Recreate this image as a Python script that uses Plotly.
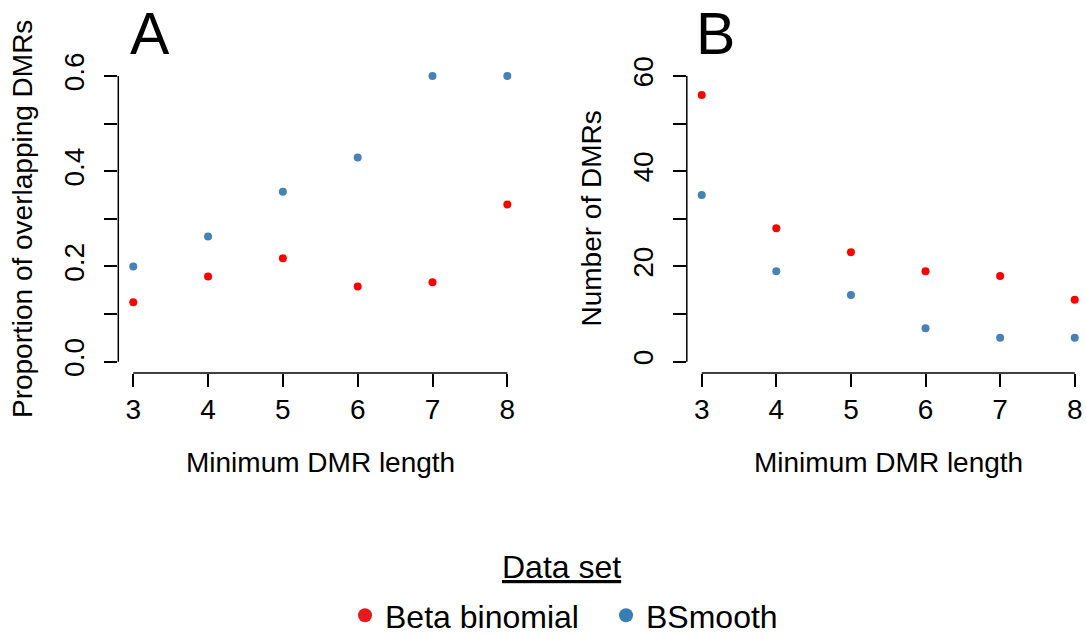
import plotly.graph_objects as go

# ---- data ----
min_len = [3, 4, 5, 6, 7, 8]
prop_beta = [0.125, 0.179, 0.217, 0.158, 0.167, 0.33]
prop_bsmooth = [0.2, 0.263, 0.357, 0.429, 0.6, 0.6]
num_beta = [56, 28, 23, 19, 18, 13]
num_bsmooth = [35, 19, 14, 7, 5, 5]
series_names = ["Beta binomial", "BSmooth"]
prop_ticks = [0, 0.1, 0.2, 0.3, 0.4, 0.5, 0.6]
prop_ticktext = ["0.0", "", "0.2", "", "0.4", "", "0.6"]
num_ticks = [0, 10, 20, 30, 40, 50, 60]
num_ticktext = ["0", "", "20", "", "40", "", "60"]

point_colors = ["#FF0000", "#4682B4"]
legend_colors = ["#E41A1C", "#377EB8"]

W, H = 1086, 635
FONT = "Liberation Sans, Arial, Helvetica, sans-serif"


def px(p):
    return p / W


def py(p):
    return 1 - p / H


fig = go.Figure()

# Panel A
fig.add_trace(go.Scatter(x=min_len, y=prop_beta, mode="markers", xaxis="x", yaxis="y",
                         marker=dict(color=point_colors[0], size=8), showlegend=False))
fig.add_trace(go.Scatter(x=min_len, y=prop_bsmooth, mode="markers", xaxis="x", yaxis="y",
                         marker=dict(color=point_colors[1], size=8), showlegend=False))
# Panel B
fig.add_trace(go.Scatter(x=min_len, y=num_beta, mode="markers", xaxis="x2", yaxis="y2",
                         marker=dict(color=point_colors[0], size=8), showlegend=False))
fig.add_trace(go.Scatter(x=min_len, y=num_bsmooth, mode="markers", xaxis="x2", yaxis="y2",
                         marker=dict(color=point_colors[1], size=8), showlegend=False))
# Legend entries
for name, col in zip(series_names, legend_colors):
    fig.add_trace(go.Scatter(x=[None], y=[None], mode="markers", name=name, xaxis="x", yaxis="y",
                             marker=dict(color=col, size=14), showlegend=True))

ydom = [py(373.1), py(64.6)]
common_x = dict(showgrid=False, zeroline=False, showline=False, ticks="outside", ticklen=13,
                tickwidth=1.5, tickcolor="black", tickvals=min_len, automargin=False,
                tickfont=dict(family=FONT, size=28, color="black"), ticklabelstandoff=-2)
common_y = dict(showgrid=False, zeroline=False, showline=False, ticks="outside", ticklen=13,
                tickwidth=1.5, tickcolor="black", tickangle=-90, automargin=False,
                tickfont=dict(family=FONT, size=28, color="black"), ticklabelstandoff=9)

fig.update_layout(
    width=W, height=H,
    margin=dict(l=0, r=0, t=0, b=0, autoexpand=False),
    paper_bgcolor="white", plot_bgcolor="white",
    font=dict(family=FONT, color="black"),
    xaxis=dict(domain=[px(118.3), px(522.3)], range=[2.8, 8.2], anchor="y", **common_x),
    yaxis=dict(domain=ydom, range=[-0.024, 0.624], anchor="x", tickvals=prop_ticks,
               ticktext=prop_ticktext, **common_y),
    xaxis2=dict(domain=[px(686.8), 1.0], range=[2.8, 8.151], anchor="y2", **common_x),
    yaxis2=dict(domain=ydom, range=[-2.4, 62.4], anchor="x2", tickvals=num_ticks,
                ticktext=num_ticktext, **common_y),
    legend=dict(orientation="h", x=px(345), xanchor="left", y=-0.0126, yanchor="bottom",
                entrywidth=216, entrywidthmode="pixels",
                font=dict(family=FONT, size=32, color="black"),
                bgcolor="rgba(0,0,0,0)"),
    showlegend=True,
)

# R-style axis lines spanning first to last tick
line = dict(color="black", width=1.5)
for xa, ya, ymax in [("x", "y", prop_ticks[-1]), ("x2", "y2", num_ticks[-1])]:
    fig.add_shape(type="line", xref=xa, yref=ya + " domain", x0=min_len[0], x1=min_len[-1],
                  y0=0, y1=0, line=line)
    fig.add_shape(type="line", xref=xa + " domain", yref=ya, x0=0, x1=0, y0=0, y1=ymax, line=line)

ann_font = dict(family=FONT, size=28, color="black")
fig.add_annotation(text="Minimum DMR length", xref="x domain", yref="paper", x=0.5, y=py(462),
                   showarrow=False, font=ann_font, xanchor="center", yanchor="middle")
fig.add_annotation(text="Minimum DMR length", xref="x2", yref="paper", x=5.5, y=py(462),
                   showarrow=False, font=ann_font, xanchor="center", yanchor="middle")
fig.add_annotation(text="Proportion of overlapping DMRs", xref="paper", yref="y domain",
                   x=px(23.2), y=0.5, textangle=-90, showarrow=False, font=ann_font,
                   xanchor="center", yanchor="middle")
fig.add_annotation(text="Number of DMRs", xref="paper", yref="y2 domain",
                   x=px(591.7), y=0.5, textangle=-90, showarrow=False, font=ann_font,
                   xanchor="center", yanchor="middle")
letter_font = dict(family=FONT, size=59, color="black")
fig.add_annotation(text="A", xref="paper", yref="paper", x=px(128), y=py(33.6), showarrow=False,
                   font=letter_font, xanchor="left", yanchor="middle")
fig.add_annotation(text="B", xref="paper", yref="paper", x=px(693.6), y=py(33.6), showarrow=False,
                   font=letter_font, xanchor="left", yanchor="middle")
# Legend title
fig.add_annotation(text="<u>Data set</u>", xref="paper", yref="paper", x=px(561), y=py(567),
                   showarrow=False, font=dict(family=FONT, size=32, color="black"),
                   xanchor="center", yanchor="middle")

fig.write_html("out.html", config={"displayModeBar": False},
               post_script="document.body.style.margin='0px';")
